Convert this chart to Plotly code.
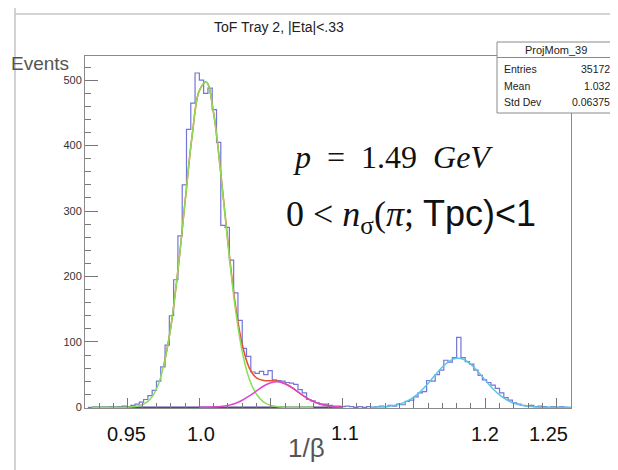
import numpy as np
import plotly.graph_objects as go

# ---------------- data ----------------
bin_low = 0.922
bin_width = 0.003
counts = [0, 0, 0, 0, 0, 1, 0, 1, 2, 1,
          3, 5, 8, 12, 18, 26, 40, 62, 95, 140,
          195, 262, 340, 425, 465, 511, 500, 480, 488, 455,
          405, 278, 275, 225, 175, 133, 90, 78, 54, 52,
          55, 50, 56, 42, 41, 40, 38, 37, 35, 27,
          22, 12, 10, 7, 5, 5, 3, 2, 2, 1,
          2, 1, 0, 1, 0, 1, 0, 1, 2, 1,
          3, 2, 5, 4, 9, 11, 16, 22, 24, 41,
          40, 50, 57, 72, 69, 76, 107, 76, 70, 66,
          57, 49, 42, 38, 34, 29, 22, 15, 11, 7,
          5, 3, 2, 3, 1, 2, 1, 0, 1, 0,
          1, 0]

pion_x = [0.925, 0.93, 0.935, 0.94, 0.945, 0.95, 0.955, 0.96, 0.965, 0.97, 0.975,
          0.98, 0.985, 0.99, 0.995, 1.0, 1.005, 1.01, 1.015, 1.02, 1.025,
          1.03, 1.035, 1.04, 1.045, 1.05, 1.055, 1.06, 1.065, 1.07, 1.08]
pion_y = [0, 0, 0, 0, 0, 0.3, 1.2, 4, 11, 28, 63,
          122, 209, 314, 416, 484, 497, 449, 357, 250, 154,
          85, 43, 20, 8, 3, 1, 0, 0, 0, 0]

kaon_x = [1.0, 1.005, 1.01, 1.015, 1.02, 1.025, 1.03, 1.035, 1.04, 1.045,
          1.05, 1.055, 1.06, 1.065, 1.07, 1.075, 1.08, 1.085, 1.09, 1.095, 1.1]
kaon_y = [0.1, 0.2, 0.5, 1.3, 3, 6, 10.8, 17.5, 25, 32.6,
          37.6, 39, 36, 29.8, 22, 14.6, 8.7, 4.6, 2.2, 0.9, 0.3]

sum_x = [0.975, 0.98, 0.985, 0.99, 0.995, 1.0, 1.005, 1.01, 1.015, 1.02, 1.025,
         1.03, 1.035, 1.04, 1.045, 1.05, 1.055, 1.06, 1.065, 1.07, 1.075,
         1.08, 1.085, 1.09, 1.095, 1.1]
sum_y = [63, 122, 209, 314, 416, 484, 497, 449.5, 358, 253, 160,
         96, 60, 45, 41, 40.6, 40, 36, 30, 22, 14.6,
         8.7, 4.6, 2.2, 0.9, 0.3]

proton_x = [1.12, 1.125, 1.13, 1.135, 1.14, 1.145, 1.15, 1.155, 1.16, 1.165,
            1.17, 1.175, 1.18, 1.185, 1.19, 1.195, 1.2, 1.205, 1.21, 1.215,
            1.22, 1.225, 1.23, 1.235, 1.24, 1.245, 1.25, 1.26]
proton_y = [0.17, 0.45, 1.1, 2.4, 4.8, 9.1, 15.6, 24.8, 36.5, 49.4,
            61.6, 70.7, 74.9, 73.1, 65.7, 54.5, 41.6, 29.3, 19, 11.4,
            6.3, 3.2, 1.5, 0.6, 0.25, 0.1, 0, 0]

base_x = [0.925, 1.1]
base_y = [0, 0]

title_text = "ToF Tray 2, |Eta|<.33"
stats_name = "ProjMom_39"
stats_rows = [("Entries", "35172"), ("Mean", "1.032"), ("Std Dev", "0.06375")]
xtick_labels = ["0.95", "1.0", "1.1", "1.2", "1.25"]

# ---------------- layout geometry ----------------
# page body has an 8px margin, so the figure origin sits at screen (8, 8)
OFF = 8
W_PX, H_PX = 618 - OFF, 470 - OFF
SL, SR, ST, SB = 85, 571, 56, 408   # plot frame in screen pixels
L, T = SL - OFF, ST - OFF
R = W_PX - (SR - OFF)
B = H_PX - (SB - OFF)
PW = W_PX - L - R
PH = H_PX - T - B


def pxx(x):
    return (x - OFF - L) / PW


def pxy(y):
    return (H_PX - B - (y - OFF)) / PH


edges = bin_low + bin_width * np.arange(len(counts) + 1)

fig = go.Figure()
fig.add_trace(go.Scatter(x=edges, y=list(counts) + [counts[-1]], mode="lines",
                         line=dict(color="#7474da", width=1.2, shape="hv"),
                         hoverinfo="skip"))
fig.add_trace(go.Scatter(x=base_x, y=base_y, mode="lines",
                         line=dict(color="#5b3f9e", width=1.5)))
fig.add_trace(go.Scatter(x=sum_x, y=sum_y, mode="lines",
                         line=dict(color="#e8502c", width=1.5, shape="spline")))
fig.add_trace(go.Scatter(x=pion_x, y=pion_y, mode="lines",
                         line=dict(color="#8ade58", width=1.5, shape="spline")))
fig.add_trace(go.Scatter(x=kaon_x, y=kaon_y, mode="lines",
                         line=dict(color="#dc45cf", width=1.5, shape="spline")))
fig.add_trace(go.Scatter(x=proton_x, y=proton_y, mode="lines",
                         line=dict(color="#5cc6e6", width=1.5, shape="spline")))

sans = "Liberation Sans, Arial, sans-serif"
serif = "Liberation Serif, Times New Roman, serif"

ann = []
ann.append(dict(x=pxx(279), y=pxy(27), text=title_text,
                font=dict(family=sans, size=14, color="#222")))
ann.append(dict(x=pxx(40), y=pxy(64), text="Events",
                font=dict(family=sans, size=19, color="#555")))
for lab, xp, yp in zip(xtick_labels, [126, 201, 345, 485, 548],
                       [434, 434, 433, 434, 434]):
    ann.append(dict(x=pxx(xp), y=pxy(yp), text=lab,
                    font=dict(family=sans, size=20, color="#111")))
ann.append(dict(x=pxx(306), y=pxy(448), text="1/β",
                font=dict(family=sans, size=26, color="#555")))
ann.append(dict(x=pxx(393), y=pxy(157),
                text="<i>p</i>&nbsp;&nbsp;=&nbsp;&nbsp;1.49&nbsp;&nbsp;<i>GeV</i>",
                font=dict(family=serif, size=32, color="#111")))
ann.append(dict(x=pxx(411), y=pxy(216),
                text="0&nbsp;&lt;&nbsp;<i>n</i><sub>σ</sub>(<i>π</i>;&nbsp;"
                     "<span style='font-family:Liberation Sans'>Tpc)&lt;1</span>",
                font=dict(family=serif, size=36, color="#111")))
# stats box text
ann.append(dict(x=pxx(556), y=pxy(50), text=stats_name,
                font=dict(family=sans, size=11, color="#222")))
for k, (name, val) in enumerate(stats_rows):
    yy = 69 + 16.5 * k
    ann.append(dict(x=pxx(502), y=pxy(yy), text=name, xanchor="left",
                    font=dict(family=sans, size=10.5, color="#222")))
    ann.append(dict(x=pxx(612), y=pxy(yy), text=val, xanchor="right",
                    font=dict(family=sans, size=10.5, color="#222")))
for a in ann:
    a.update(xref="paper", yref="paper", showarrow=False)
    a.setdefault("xanchor", "center")
    a.setdefault("yanchor", "middle")

shapes = [
    dict(type="line", x0=pxx(15), x1=pxx(15), y0=pxy(OFF), y1=pxy(470),
         line=dict(color="#c4c4c4", width=1.5)),
    dict(type="line", x0=pxx(15), x1=pxx(618), y0=pxy(14), y1=pxy(14),
         line=dict(color="#c4c4c4", width=1.5)),
    dict(type="rect", x0=pxx(497), x1=pxx(615), y0=pxy(42), y1=pxy(113),
         fillcolor="white", line=dict(color="#8a8a8a", width=1), layer="above"),
    dict(type="line", x0=pxx(497), x1=pxx(615), y0=pxy(57.5), y1=pxy(57.5),
         line=dict(color="#8a8a8a", width=1), layer="above"),
]
for s in shapes:
    s.update(xref="paper", yref="paper")

fig.update_layout(
    width=W_PX, height=H_PX,
    margin=dict(l=L, r=R, t=T, b=B, autoexpand=False),
    paper_bgcolor="white", plot_bgcolor="white",
    showlegend=False,
    annotations=ann, shapes=shapes,
    xaxis=dict(range=[0.92, 1.26], showline=True, linecolor="#8a8a8a", linewidth=1,
               mirror=True, ticks="inside", ticklen=10, tickcolor="#777",
               tick0=0, dtick=0.05, showticklabels=False, showgrid=False,
               zeroline=False,
               minor=dict(ticks="inside", ticklen=5, dtick=0.01, tickcolor="#777",
                          showgrid=False)),
    yaxis=dict(range=[-1, 537], showline=True, linecolor="#8a8a8a", linewidth=1,
               mirror=True, ticks="inside", ticklen=13, tickcolor="#777",
               tick0=0, dtick=100, showgrid=False, zeroline=False,
               tickfont=dict(family=sans, size=11, color="#333"),
               minor=dict(ticks="inside", ticklen=6, dtick=20, tickcolor="#777",
                          showgrid=False)),
)

fig.write_html("out.html")
